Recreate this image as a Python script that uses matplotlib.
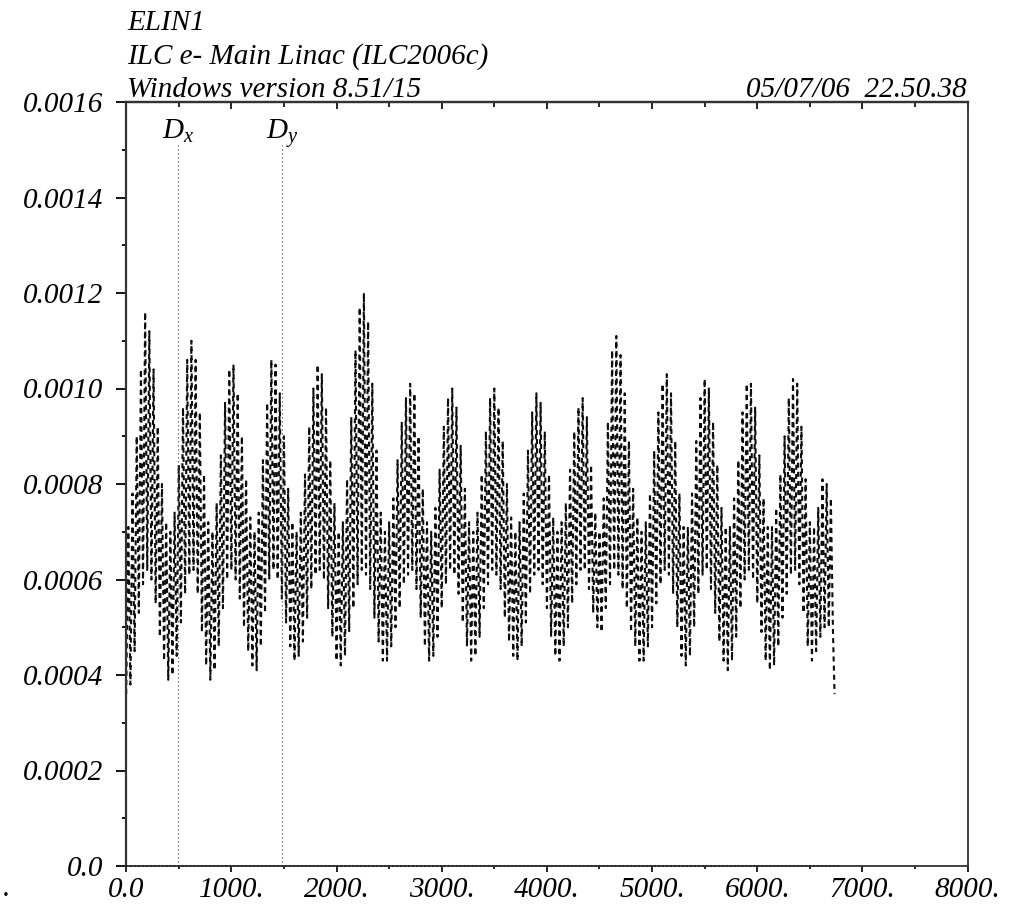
import matplotlib
matplotlib.use('Agg')
import matplotlib.pyplot as plt
from matplotlib.ticker import MultipleLocator

# Dy readings: lower turning points of the fast oscillation
s_low = [0, 40, 80, 120, 160, 200, 240, 280, 320, 360,
         400, 440, 480, 520, 560, 600, 640, 680, 720, 760,
         800, 840, 880, 920, 960, 1000, 1040, 1080, 1120, 1160,
         1200, 1240, 1280, 1320, 1360, 1400, 1440, 1480, 1520, 1560,
         1600, 1640, 1680, 1720, 1760, 1800, 1840, 1880, 1920, 1960,
         2000, 2040, 2080, 2120, 2160, 2200, 2240, 2280, 2320, 2360,
         2400, 2440, 2480, 2520, 2560, 2600, 2640, 2680, 2720, 2760,
         2800, 2840, 2880, 2920, 2960, 3000, 3040, 3080, 3120, 3160,
         3200, 3240, 3280, 3320, 3360, 3400, 3440, 3480, 3520, 3560,
         3600, 3640, 3680, 3720, 3760, 3800, 3840, 3880, 3920, 3960,
         4000, 4040, 4080, 4120, 4160, 4200, 4240, 4280, 4320, 4360,
         4400, 4440, 4480, 4520, 4560, 4600, 4640, 4680, 4720, 4760,
         4800, 4840, 4880, 4920, 4960, 5000, 5040, 5080, 5120, 5160,
         5200, 5240, 5280, 5320, 5360, 5400, 5440, 5480, 5520, 5560,
         5600, 5640, 5680, 5720, 5760, 5800, 5840, 5880, 5920, 5960,
         6000, 6040, 6080, 6120, 6160, 6200, 6240, 6280, 6320, 6360,
         6400, 6440, 6480, 6520, 6560, 6600, 6640, 6680, 6720, 6735]
dy_low = [0.00036, 0.00038, 0.00045, 0.00053, 0.00059, 0.00062, 0.00060, 0.00055, 0.00048, 0.00043,
          0.00039, 0.00040, 0.00044, 0.00051, 0.00057, 0.00061, 0.00062, 0.00057, 0.00049, 0.00042,
          0.00039, 0.00041, 0.00046, 0.00054, 0.00060, 0.00062, 0.00060, 0.00056, 0.00050, 0.00045,
          0.00042, 0.00041, 0.00046, 0.00053, 0.00060, 0.00062, 0.00060, 0.00056, 0.00051, 0.00046,
          0.00043, 0.00044, 0.00047, 0.00052, 0.00058, 0.00061, 0.00062, 0.00060, 0.00054, 0.00048,
          0.00043, 0.00042, 0.00044, 0.00049, 0.00054, 0.00059, 0.00062, 0.00061, 0.00058, 0.00052,
          0.00047, 0.00043, 0.00043, 0.00046, 0.00050, 0.00054, 0.00059, 0.00061, 0.00062, 0.00058,
          0.00052, 0.00046, 0.00043, 0.00044, 0.00048, 0.00054, 0.00059, 0.00062, 0.00061, 0.00057,
          0.00051, 0.00046, 0.00043, 0.00044, 0.00048, 0.00054, 0.00059, 0.00062, 0.00061, 0.00058,
          0.00052, 0.00047, 0.00044, 0.00043, 0.00046, 0.00051, 0.00057, 0.00061, 0.00062, 0.00059,
          0.00054, 0.00048, 0.00044, 0.00043, 0.00046, 0.00050, 0.00055, 0.00059, 0.00062, 0.00062,
          0.00058, 0.00053, 0.00050, 0.00049, 0.00054, 0.00059, 0.00062, 0.00061, 0.00058, 0.00054,
          0.00049, 0.00046, 0.00043, 0.00043, 0.00046, 0.00050, 0.00055, 0.00059, 0.00062, 0.00061,
          0.00057, 0.00050, 0.00044, 0.00042, 0.00044, 0.00050, 0.00057, 0.00061, 0.00062, 0.00058,
          0.00053, 0.00047, 0.00043, 0.00041, 0.00043, 0.00048, 0.00054, 0.00060, 0.00062, 0.00060,
          0.00055, 0.00049, 0.00043, 0.00041, 0.00042, 0.00046, 0.00052, 0.00057, 0.00061, 0.00062,
          0.00059, 0.00053, 0.00046, 0.00043, 0.00045, 0.00048, 0.00050, 0.00050, 0.00049, 0.00036]

# Dy readings: upper turning points of the fast oscillation
s_high = [20, 60, 100, 140, 180, 220, 260, 300, 340, 380,
          420, 460, 500, 540, 580, 620, 660, 700, 740, 780,
          820, 860, 900, 940, 980, 1020, 1060, 1100, 1140, 1180,
          1220, 1260, 1300, 1340, 1380, 1420, 1460, 1500, 1540, 1580,
          1620, 1660, 1700, 1740, 1780, 1820, 1860, 1900, 1940, 1980,
          2020, 2060, 2100, 2140, 2180, 2220, 2260, 2300, 2340, 2380,
          2420, 2460, 2500, 2540, 2580, 2620, 2660, 2700, 2740, 2780,
          2820, 2860, 2900, 2940, 2980, 3020, 3060, 3100, 3140, 3180,
          3220, 3260, 3300, 3340, 3380, 3420, 3460, 3500, 3540, 3580,
          3620, 3660, 3700, 3740, 3780, 3820, 3860, 3900, 3940, 3980,
          4020, 4060, 4100, 4140, 4180, 4220, 4260, 4300, 4340, 4380,
          4420, 4460, 4500, 4540, 4580, 4620, 4660, 4700, 4740, 4780,
          4820, 4860, 4900, 4940, 4980, 5020, 5060, 5100, 5140, 5180,
          5220, 5260, 5300, 5340, 5380, 5420, 5460, 5500, 5540, 5580,
          5620, 5660, 5700, 5740, 5780, 5820, 5860, 5900, 5940, 5980,
          6020, 6060, 6100, 6140, 6180, 6220, 6260, 6300, 6340, 6380,
          6420, 6460, 6500, 6540, 6580, 6620, 6660, 6700]
dy_high = [0.00071, 0.00078, 0.00090, 0.00104, 0.00116, 0.00112, 0.00104, 0.00092, 0.00080, 0.00072,
           0.00070, 0.00074, 0.00084, 0.00096, 0.00106, 0.00110, 0.00106, 0.00095, 0.00082, 0.00072,
           0.00070, 0.00076, 0.00086, 0.00097, 0.00104, 0.00105, 0.00099, 0.00090, 0.00081, 0.00073,
           0.00070, 0.00074, 0.00085, 0.00097, 0.00106, 0.00105, 0.00099, 0.00090, 0.00079, 0.00072,
           0.00070, 0.00074, 0.00082, 0.00092, 0.00100, 0.00105, 0.00103, 0.00096, 0.00085, 0.00076,
           0.00070, 0.00072, 0.00081, 0.00094, 0.00108, 0.00117, 0.00120, 0.00114, 0.00101, 0.00087,
           0.00074, 0.00070, 0.00072, 0.00077, 0.00085, 0.00093, 0.00098, 0.00101, 0.00099, 0.00090,
           0.00079, 0.00072, 0.00070, 0.00075, 0.00083, 0.00092, 0.00098, 0.00100, 0.00096, 0.00088,
           0.00079, 0.00072, 0.00070, 0.00074, 0.00082, 0.00091, 0.00098, 0.00100, 0.00096, 0.00089,
           0.00080, 0.00073, 0.00070, 0.00072, 0.00078, 0.00087, 0.00095, 0.00099, 0.00097, 0.00091,
           0.00082, 0.00073, 0.00070, 0.00072, 0.00076, 0.00083, 0.00091, 0.00096, 0.00098, 0.00094,
           0.00084, 0.00074, 0.00070, 0.00077, 0.00093, 0.00108, 0.00111, 0.00107, 0.00099, 0.00089,
           0.00079, 0.00073, 0.00070, 0.00072, 0.00078, 0.00087, 0.00095, 0.00101, 0.00103, 0.00099,
           0.00089, 0.00078, 0.00071, 0.00071, 0.00078, 0.00089, 0.00098, 0.00102, 0.00100, 0.00093,
           0.00084, 0.00075, 0.00071, 0.00071, 0.00077, 0.00085, 0.00095, 0.00101, 0.00101, 0.00096,
           0.00086, 0.00077, 0.00071, 0.00071, 0.00075, 0.00082, 0.00090, 0.00098, 0.00102, 0.00101,
           0.00092, 0.00081, 0.00072, 0.00071, 0.00075, 0.00081, 0.00080, 0.00077]

# Dx stays at zero over the whole line
s_dx = [0, 6780]
dx = [0.0, 0.0]

label_s = [490, 1485]
label_txt = [r'$D_x$', r'$D_y$']

x_ticks = [0, 1000, 2000, 3000, 4000, 5000, 6000, 7000, 8000]
x_tick_labels = ['0.0', '1000.', '2000.', '3000.', '4000.', '5000.', '6000.', '7000.', '8000.']
y_ticks = [0.0, 0.0002, 0.0004, 0.0006, 0.0008, 0.0010, 0.0012, 0.0014, 0.0016]
y_tick_labels = ['0.0', '0.0002', '0.0004', '0.0006', '0.0008', '0.0010', '0.0012', '0.0014', '0.0016']

header = ['ELIN1', 'ILC e- Main Linac (ILC2006c)', 'Windows version 8.51/15']
stamp = '05/07/06  22.50.38'

# merge the two sets of turning points into one line along s
pts = sorted(zip(s_low + s_high, dy_low + dy_high))
s_dy = [p[0] for p in pts]
dy = [p[1] for p in pts]

plt.rcParams['font.family'] = 'Liberation Serif'
plt.rcParams['font.style'] = 'italic'
plt.rcParams['mathtext.fontset'] = 'custom'
plt.rcParams['mathtext.it'] = 'Liberation Serif:italic'
plt.rcParams['mathtext.rm'] = 'Liberation Serif:italic'

W, H = 1010, 914
fig = plt.figure(figsize=(W / 100, H / 100), dpi=100)
ax = fig.add_axes([126.2 / W, 1 - 866 / H, (967.6 - 126.2) / W, (866 - 102) / H])

ax.plot(s_dy, dy, color='#0d0d0d', lw=1.5, linestyle=(0, (2.4, 2.0)))
ax.plot(s_dx, dx, color='#222222', lw=1.3, linestyle=(0, (1, 1.2)), clip_on=False, zorder=5)

for s, lab in zip(label_s, label_txt):
    ax.plot([s, s], [0, 0.00151], color='#555555', lw=0.9, linestyle=(0, (1, 2.2)))
    ax.text(s, 0.001522, lab, ha='center', va='baseline', fontsize=21)

ax.set_xlim(0, 8000)
ax.set_ylim(0, 0.0016)
ax.set_xticks(x_ticks)
ax.set_xticklabels(x_tick_labels, fontsize=21)
ax.xaxis.set_minor_locator(MultipleLocator(500))
ax.set_yticks(y_ticks)
ax.set_yticklabels(y_tick_labels, fontsize=21)
ax.yaxis.set_minor_locator(MultipleLocator(0.0001))

ax.tick_params(axis='y', which='major', direction='out', length=7.5, width=1.3, pad=9, right=False)
ax.tick_params(axis='y', which='minor', direction='out', length=3.2, width=1.3, right=False)
ax.tick_params(axis='x', which='major', direction='out', length=4, width=1.2, pad=4, top=False)
ax.tick_params(axis='x', which='minor', direction='out', length=2.5, width=1.2, top=False)

top = ax.secondary_xaxis('top')
top.set_xticks(x_ticks)
top.set_xticklabels([])
top.xaxis.set_minor_locator(MultipleLocator(500))
top.tick_params(which='major', direction='in', length=5, width=1.2)
top.tick_params(which='minor', direction='in', length=3.5, width=1.2)
top.spines['top'].set_linewidth(1.6)
top.spines['top'].set_color('#333333')

for side in ['left', 'bottom', 'right', 'top']:
    ax.spines[side].set_color('#333333')
ax.spines['left'].set_linewidth(1.6)
ax.spines['top'].set_linewidth(1.6)
ax.spines['bottom'].set_linewidth(1.3)
ax.spines['right'].set_linewidth(1.3)

for i, line in enumerate(header):
    fig.text(127 / W, 1 - (30 + 33.5 * i) / H, line, fontsize=21, va='baseline', ha='left')
fig.text(967 / W, 1 - 97 / H, stamp, fontsize=21, va='baseline', ha='right')
fig.text(3 / W, 1 - 896 / H, '.', fontsize=21, va='baseline', ha='left')

fig.savefig('out.png', dpi=100)
